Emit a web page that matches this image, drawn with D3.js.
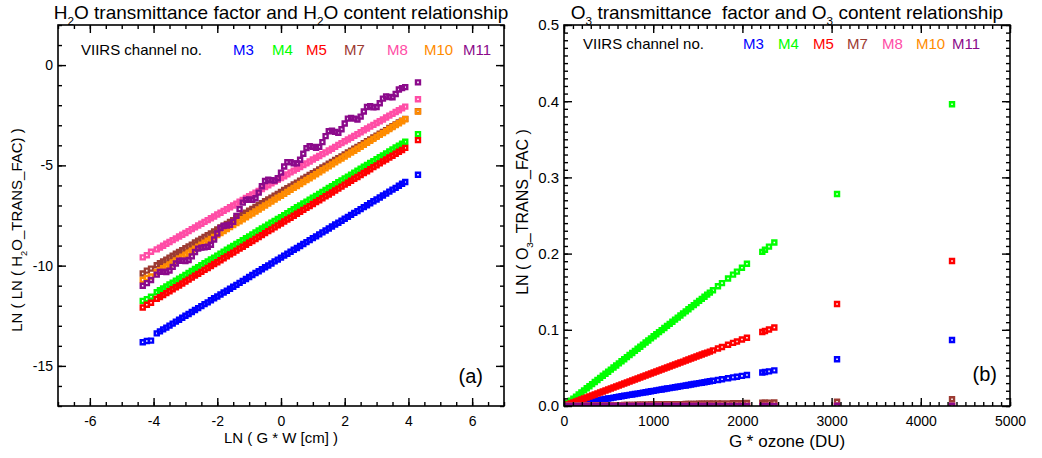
<!DOCTYPE html>
<html>
<head>
<meta charset="utf-8">
<title>H2O / O3 transmittance factors</title>
<style>
  body { margin: 0; background: #fff; }
  svg { display: block; }
  text { white-space: pre; }
</style>
</head>
<body>
<svg id="svg"></svg>
<script src="https://d3js.org/d3.v7.min.js"></script>
<script>
  // VIIRS channels, in drawing order
  const channels = ["M3", "M4", "M5", "M7", "M8", "M10", "M11"];
  const channelColors = ["#0000ff", "#00ff00", "#ff0000", "#9c3b32", "#ff4da6", "#ff8c00", "#8b0a8b"];

  // ---- (a) H2O : LN(G*W) vs LN(LN(H2O_TRANS_FAC)) ----
  const lnGW = [-4.34, -4.21, -4.08,
    -3.9, -3.8, -3.7, -3.6, -3.5, -3.4, -3.3, -3.2, -3.1, -3.0,
    -2.9, -2.8, -2.7, -2.6, -2.5, -2.4, -2.3, -2.2, -2.1, -2.0,
    -1.9, -1.8, -1.7, -1.6, -1.5, -1.4, -1.3, -1.2, -1.1, -1.0,
    -0.9, -0.8, -0.7, -0.6, -0.5, -0.4, -0.3, -0.2, -0.1, 0.0,
    0.1, 0.2, 0.3, 0.4, 0.5, 0.6, 0.7, 0.8, 0.9, 1.0,
    1.1, 1.2, 1.3, 1.4, 1.5, 1.6, 1.7, 1.8, 1.9, 2.0,
    2.1, 2.2, 2.3, 2.4, 2.5, 2.6, 2.7, 2.8, 2.9, 3.0,
    3.1, 3.2, 3.3, 3.4, 3.5, 3.6, 3.7, 3.8, 3.9,
    4.30];

  const h2oM3 = [-13.82, -13.76, -13.74,
    -13.38, -13.28, -13.18, -13.09, -12.99, -12.89, -12.79, -12.70, -12.60, -12.50,
    -12.41, -12.31, -12.21, -12.12, -12.02, -11.92, -11.83, -11.73, -11.63, -11.54,
    -11.44, -11.34, -11.25, -11.15, -11.05, -10.96, -10.86, -10.76, -10.67, -10.57,
    -10.47, -10.37, -10.28, -10.18, -10.08, -9.99, -9.89, -9.79, -9.70, -9.60,
    -9.50, -9.41, -9.31, -9.21, -9.12, -9.02, -8.92, -8.83, -8.73, -8.63,
    -8.54, -8.44, -8.34, -8.25, -8.15, -8.05, -7.95, -7.86, -7.76, -7.66,
    -7.57, -7.47, -7.37, -7.28, -7.18, -7.08, -6.99, -6.89, -6.79, -6.70,
    -6.60, -6.50, -6.41, -6.31, -6.21, -6.12, -6.02, -5.92, -5.83,
    -5.47];

  const h2oM4 = [-11.76, -11.67, -11.55,
    -11.33, -11.23, -11.14, -11.04, -10.94, -10.85, -10.75, -10.65, -10.56, -10.46,
    -10.37, -10.27, -10.17, -10.08, -9.98, -9.88, -9.79, -9.69, -9.60, -9.50,
    -9.40, -9.31, -9.21, -9.11, -9.02, -8.92, -8.83, -8.73, -8.63, -8.54,
    -8.44, -8.35, -8.25, -8.15, -8.06, -7.96, -7.86, -7.77, -7.67, -7.58,
    -7.48, -7.38, -7.29, -7.19, -7.09, -7.00, -6.90, -6.81, -6.71, -6.61,
    -6.52, -6.42, -6.33, -6.23, -6.13, -6.04, -5.94, -5.84, -5.75, -5.65,
    -5.56, -5.46, -5.36, -5.27, -5.17, -5.07, -4.98, -4.88, -4.79, -4.69,
    -4.59, -4.50, -4.40, -4.30, -4.21, -4.11, -4.02, -3.92, -3.82,
    -3.44];

  const h2oM5 = [-12.09, -11.95, -11.85,
    -11.66, -11.57, -11.47, -11.37, -11.28, -11.18, -11.08, -10.99, -10.89, -10.79,
    -10.70, -10.60, -10.50, -10.41, -10.31, -10.21, -10.12, -10.02, -9.92, -9.83,
    -9.73, -9.63, -9.54, -9.44, -9.35, -9.25, -9.15, -9.06, -8.96, -8.86,
    -8.77, -8.67, -8.57, -8.48, -8.38, -8.28, -8.19, -8.09, -7.99, -7.90,
    -7.80, -7.70, -7.61, -7.51, -7.41, -7.32, -7.22, -7.12, -7.03, -6.93,
    -6.83, -6.74, -6.64, -6.54, -6.45, -6.35, -6.25, -6.16, -6.06, -5.96,
    -5.87, -5.77, -5.67, -5.58, -5.48, -5.38, -5.29, -5.19, -5.09, -5.00,
    -4.90, -4.80, -4.71, -4.61, -4.52, -4.42, -4.32, -4.23, -4.13,
    -3.74];

  const h2oM7 = [-10.39, -10.25, -10.15,
    -9.98, -9.88, -9.79, -9.70, -9.60, -9.51, -9.41, -9.32, -9.23, -9.13,
    -9.04, -8.95, -8.85, -8.76, -8.67, -8.57, -8.48, -8.39, -8.29, -8.20,
    -8.10, -8.01, -7.92, -7.82, -7.73, -7.64, -7.54, -7.45, -7.36, -7.26,
    -7.17, -7.07, -6.98, -6.89, -6.79, -6.70, -6.61, -6.51, -6.42, -6.33,
    -6.23, -6.14, -6.05, -5.95, -5.86, -5.76, -5.67, -5.58, -5.48, -5.39,
    -5.30, -5.20, -5.11, -5.02, -4.92, -4.83, -4.73, -4.64, -4.55, -4.45,
    -4.36, -4.27, -4.17, -4.08, -3.99, -3.89, -3.80, -3.71, -3.61, -3.52,
    -3.42, -3.33, -3.24, -3.14, -3.05, -2.96, -2.86, -2.77, -2.68,
    -2.30];

  const h2oM8 = [-9.59, -9.48, -9.31,
    -9.19, -9.10, -9.01, -8.91, -8.82, -8.73, -8.64, -8.55, -8.46, -8.37,
    -8.28, -8.18, -8.09, -8.00, -7.91, -7.82, -7.73, -7.64, -7.55, -7.45,
    -7.36, -7.27, -7.18, -7.09, -7.00, -6.91, -6.81, -6.72, -6.63, -6.54,
    -6.45, -6.36, -6.27, -6.18, -6.08, -5.99, -5.90, -5.81, -5.72, -5.63,
    -5.54, -5.45, -5.35, -5.26, -5.17, -5.08, -4.99, -4.90, -4.81, -4.71,
    -4.62, -4.53, -4.44, -4.35, -4.26, -4.17, -4.08, -3.98, -3.89, -3.80,
    -3.71, -3.62, -3.53, -3.44, -3.35, -3.25, -3.16, -3.07, -2.98, -2.89,
    -2.80, -2.71, -2.61, -2.52, -2.43, -2.34, -2.25, -2.16, -2.07,
    -1.70];

  const h2oM10 = [-10.71, -10.62, -10.54,
    -10.33, -10.23, -10.13, -10.04, -9.94, -9.84, -9.74, -9.64, -9.55, -9.45,
    -9.35, -9.25, -9.16, -9.06, -8.96, -8.86, -8.76, -8.67, -8.57, -8.47,
    -8.37, -8.28, -8.18, -8.08, -7.98, -7.88, -7.79, -7.69, -7.59, -7.49,
    -7.40, -7.30, -7.20, -7.10, -7.00, -6.91, -6.81, -6.71, -6.61, -6.52,
    -6.42, -6.32, -6.22, -6.12, -6.03, -5.93, -5.83, -5.73, -5.64, -5.54,
    -5.44, -5.34, -5.24, -5.15, -5.05, -4.95, -4.85, -4.75, -4.66, -4.56,
    -4.46, -4.36, -4.27, -4.17, -4.07, -3.97, -3.87, -3.78, -3.68, -3.58,
    -3.48, -3.39, -3.29, -3.19, -3.09, -2.99, -2.90, -2.80, -2.70,
    -2.31];

  const h2oM11 = [-11.00, -10.87, -10.72,
    -10.45, -10.31, -10.31, -10.32, -10.25, -10.06, -9.89, -9.76, -9.76, -9.77,
    -9.72, -9.54, -9.32, -9.15, -9.10, -9.08, -9.06, -8.96, -8.70, -8.40,
    -8.12, -8.02, -8.00, -7.96, -7.82, -7.52, -7.18, -6.86, -6.72, -6.70,
    -6.72, -6.64, -6.36, -6.04, -5.78, -5.72, -5.74, -5.76, -5.64, -5.36,
    -5.06, -4.84, -4.84, -4.90, -4.90, -4.72, -4.42, -4.14, -4.04, -4.08,
    -4.13, -4.08, -3.84, -3.54, -3.30, -3.27, -3.33, -3.37, -3.20, -2.91,
    -2.67, -2.63, -2.67, -2.71, -2.57, -2.31, -2.09, -2.05, -2.11, -2.09,
    -1.90, -1.67, -1.56, -1.59, -1.60, -1.44, -1.22, -1.15, -1.10,
    -0.86];

  const xTicksA = [-6, -4, -2, 0, 2, 4, 6];
  const xLabelsA = ["-6", "-4", "-2", "0", "2", "4", "6"];
  const yTicksA = [0, -5, -10, -15];
  const yLabelsA = ["0", "-5", "-10", "-15"];

  // ---- (b) O3 : G*ozone vs LN(O3_TRANS_FAC) ----
  const ozoneDU = [15, 45, 75, 105, 135, 165, 195, 225, 255, 285,
    315, 345, 375, 405, 435, 465, 495, 525, 555, 585,
    615, 645, 675, 705, 735, 765, 795, 825, 855, 885,
    915, 945, 975, 1005, 1035, 1065, 1095, 1125, 1155, 1185,
    1215, 1245, 1275, 1305, 1335, 1365, 1395, 1425, 1455, 1485,
    1515, 1545, 1575, 1605, 1635,
    1670, 1726, 1771, 1839, 1895, 1939, 1995, 2051, 2223, 2253, 2298, 2358, 3061, 4350];

  const o3M3 = [0.0003, 0.0009, 0.0015, 0.0021, 0.0027, 0.0033, 0.0039, 0.0045, 0.0050, 0.0056,
    0.0062, 0.0068, 0.0074, 0.0080, 0.0086, 0.0092, 0.0098, 0.0104, 0.0110, 0.0116,
    0.0122, 0.0128, 0.0134, 0.0140, 0.0146, 0.0151, 0.0157, 0.0163, 0.0169, 0.0175,
    0.0181, 0.0187, 0.0193, 0.0199, 0.0205, 0.0211, 0.0217, 0.0223, 0.0229, 0.0235,
    0.0241, 0.0247, 0.0252, 0.0258, 0.0264, 0.0270, 0.0276, 0.0282, 0.0288, 0.0294,
    0.0300, 0.0306, 0.0312, 0.0318, 0.0324,
    0.0331, 0.0342, 0.0351, 0.0364, 0.0375, 0.0384, 0.0395, 0.0406, 0.0440, 0.0446, 0.0455, 0.0467, 0.0613, 0.0866];

  const o3M4 = [0.0014, 0.0041, 0.0068, 0.0096, 0.0123, 0.0150, 0.0177, 0.0205, 0.0232, 0.0259,
    0.0287, 0.0314, 0.0341, 0.0369, 0.0396, 0.0423, 0.0450, 0.0478, 0.0505, 0.0532,
    0.0560, 0.0587, 0.0614, 0.0642, 0.0669, 0.0696, 0.0723, 0.0751, 0.0778, 0.0805,
    0.0833, 0.0860, 0.0887, 0.0915, 0.0942, 0.0969, 0.0996, 0.1024, 0.1051, 0.1078,
    0.1106, 0.1133, 0.1160, 0.1188, 0.1215, 0.1242, 0.1269, 0.1297, 0.1324, 0.1351,
    0.1379, 0.1406, 0.1433, 0.1461, 0.1488,
    0.1520, 0.1571, 0.1612, 0.1673, 0.1724, 0.1764, 0.1815, 0.1866, 0.2023, 0.2050, 0.2091, 0.2146, 0.2782, 0.3959];

  const o3M5 = [0.0007, 0.0020, 0.0033, 0.0046, 0.0059, 0.0072, 0.0085, 0.0098, 0.0111, 0.0125,
    0.0138, 0.0151, 0.0164, 0.0177, 0.0190, 0.0203, 0.0216, 0.0229, 0.0243, 0.0256,
    0.0269, 0.0282, 0.0295, 0.0308, 0.0321, 0.0334, 0.0347, 0.0361, 0.0374, 0.0387,
    0.0400, 0.0413, 0.0426, 0.0439, 0.0452, 0.0465, 0.0479, 0.0492, 0.0505, 0.0518,
    0.0531, 0.0544, 0.0557, 0.0570, 0.0583, 0.0597, 0.0610, 0.0623, 0.0636, 0.0649,
    0.0662, 0.0675, 0.0688, 0.0701, 0.0714,
    0.0730, 0.0754, 0.0774, 0.0804, 0.0828, 0.0847, 0.0872, 0.0896, 0.0971, 0.0985, 0.1004, 0.1030, 0.1339, 0.1903];

  const o3M7 = [0.0000, 0.0001, 0.0001, 0.0002, 0.0003, 0.0003, 0.0004, 0.0004, 0.0005, 0.0005,
    0.0006, 0.0007, 0.0007, 0.0008, 0.0008, 0.0009, 0.0009, 0.0010, 0.0011, 0.0011,
    0.0012, 0.0012, 0.0013, 0.0013, 0.0014, 0.0015, 0.0015, 0.0016, 0.0016, 0.0017,
    0.0017, 0.0018, 0.0019, 0.0019, 0.0020, 0.0020, 0.0021, 0.0021, 0.0022, 0.0023,
    0.0023, 0.0024, 0.0024, 0.0025, 0.0025, 0.0026, 0.0027, 0.0027, 0.0028, 0.0028,
    0.0029, 0.0029, 0.0030, 0.0030, 0.0031,
    0.0032, 0.0033, 0.0034, 0.0035, 0.0036, 0.0037, 0.0038, 0.0039, 0.0042, 0.0043, 0.0044, 0.0045, 0.0056, 0.0088];

  const o3M8 = [0, 0, 0, 0, 0, 0, 0, 0, 0, 0,
    0, 0, 0, 0, 0, 0, 0, 0, 0, 0,
    0, 0, 0, 0, 0, 0, 0, 0, 0, 0,
    0, 0, 0, 0, 0, 0, 0, 0, 0, 0,
    0, 0, 0, 0, 0, 0, 0, 0, 0, 0,
    0, 0, 0, 0, 0,
    0, 0, 0, 0, 0, 0, 0, 0, 0, 0, 0, 0, 0, 0];

  const o3M10 = [0, 0, 0, 0, 0, 0, 0, 0, 0, 0,
    0, 0, 0, 0, 0, 0, 0, 0, 0, 0,
    0, 0, 0, 0, 0, 0, 0, 0, 0, 0,
    0, 0, 0, 0, 0, 0, 0, 0, 0, 0,
    0, 0, 0, 0, 0, 0, 0, 0, 0, 0,
    0, 0, 0, 0, 0,
    0, 0, 0, 0, 0, 0, 0, 0, 0, 0, 0, 0, 0, 0];

  const o3M11 = [0, 0, 0, 0, 0, 0, 0, 0, 0, 0,
    0, 0, 0, 0, 0, 0, 0, 0, 0, 0,
    0, 0, 0, 0, 0, 0, 0, 0, 0, 0,
    0.0001, 0.0001, 0.0001, 0.0001, 0.0001, 0.0001, 0.0001, 0.0001, 0.0001, 0.0001,
    0.0001, 0.0001, 0.0001, 0.0001, 0.0001, 0.0001, 0.0001, 0.0001, 0.0001, 0.0001,
    0.0001, 0.0001, 0.0001, 0.0001, 0.0001,
    0.0001, 0.0001, 0.0001, 0.0001, 0.0001, 0.0001, 0.0001, 0.0001, 0.0002, 0.0002, 0.0002, 0.0002, 0.0003, 0.0004];

  const xTicksB = [0, 1000, 2000, 3000, 4000, 5000];
  const xLabelsB = ["0", "1000", "2000", "3000", "4000", "5000"];
  const yTicksB = [0, 0.1, 0.2, 0.3, 0.4, 0.5];
  const yLabelsB = ["0.0", "0.1", "0.2", "0.3", "0.4", "0.5"];

  // ---- layout ----
  const width = 1042, height = 458;
  const font = "'Liberation Sans', Arial, Helvetica, sans-serif";

  const panels = [
    {
      id: "a", left: 58, right: 504, top: 25, bottom: 406,
      xDomain: [-7, 7], yDomain: [-17, 2],
      xs: lnGW, series: [h2oM3, h2oM4, h2oM5, h2oM7, h2oM8, h2oM10, h2oM11],
      xTicks: xTicksA, xLabels: xLabelsA, xMinor: d3.range(-7, 7.001, 0.5),
      yTicks: yTicksA, yLabels: yLabelsA, yMinor: d3.range(-17, 2.001, 1),
      xPad: 10, xFont: 14, yFont: 14, clip: false,
      title: "H!D2!NO transmittance factor and H!D2!NO content relationship", titleY: 18.5,
      xTitle: "LN ( G * W [cm] )", xTitleY: 443, xTitleSize: 15,
      yTitle: "LN ( LN ( H!D2!NO_TRANS_FAC) )", yTitleX: 22, yTitleY: 230, yTitleSize: 15,
      legendY: 54.5, legendX: 81, chanX: [233, 272, 306, 344, 387, 424, 463],
      tag: "(a)", tagX: 483, tagY: 383
    },
    {
      id: "b", left: 564, right: 1010, top: 25, bottom: 406,
      xDomain: [0, 5000], yDomain: [0, 0.5],
      xs: ozoneDU, series: [o3M3, o3M4, o3M5, o3M7, o3M8, o3M10, o3M11],
      xTicks: xTicksB, xLabels: xLabelsB, xMinor: d3.range(0, 5001, 100),
      yTicks: yTicksB, yLabels: yLabelsB, yMinor: d3.range(0, 0.5001, 0.01),
      xPad: 10, xFont: 14, yFont: 15, clip: true,
      title: "O!D3!N transmittance  factor and O!D3!N content relationship", titleY: 18.5,
      xTitle: "G * ozone (DU)", xTitleY: 447, xTitleSize: 17,
      yTitle: "LN ( O!D3!N_TRANS_FAC )", yTitleX: 528, yTitleY: 212, yTitleSize: 16,
      legendY: 48.5, legendX: 583, chanX: [743, 778, 813, 847, 882, 916, 952],
      tag: "(b)", tagX: 997, tagY: 381
    }
  ];

  const svg = d3.select("#svg").attr("width", width).attr("height", height)
    .attr("font-family", font);

  // IDL-style "!D..!N" subscripts
  function richText(text, s, size) {
    const parts = s.split(/!D|!N/);
    let shift = 0;
    parts.forEach((p, i) => {
      if (!p) return;
      const sub = i % 2 === 1;
      const target = sub ? size * 0.32 : 0;
      text.append("tspan")
        .attr("dy", target - shift)
        .attr("font-size", sub ? size * 0.62 : size)
        .text(p);
      shift = target;
    });
  }

  function styleAxis(g, fontSize) {
    g.selectAll(".domain").remove();
    g.selectAll(".tick line").attr("stroke", "#000").attr("stroke-width", 1.4);
    g.selectAll("text").attr("fill", "#000").attr("font-size", fontSize).attr("font-family", font);
  }

  function drawPanel(p) {
    const x = d3.scaleLinear().domain(p.xDomain).range([p.left, p.right]);
    const y = d3.scaleLinear().domain(p.yDomain).range([p.bottom, p.top]);
    const g = svg.append("g");
    const major = 8, minor = 4;
    const fmt = (labels, ticks) => d => labels[ticks.indexOf(d)];

    // points (open squares)
    if (p.clip) {
      svg.append("clipPath").attr("id", "clip-" + p.id)
        .append("rect")
        .attr("x", p.left).attr("y", p.top)
        .attr("width", p.right - p.left).attr("height", p.bottom - p.top);
    }
    const marks = g.append("g");
    if (p.clip) marks.attr("clip-path", `url(#clip-${p.id})`);
    const square = d3.symbol().type(d3.symbolSquare).size(16)();
    p.series.forEach((ys, i) => {
      marks.append("g")
        .selectAll("path")
        .data(p.xs.map((xv, j) => [xv, ys[j]]))
        .join("path")
        .attr("d", square)
        .attr("transform", d => `translate(${x(d[0])},${y(d[1])})`)
        .attr("fill", "none")
        .attr("stroke", channelColors[i])
        .attr("stroke-width", 2.4);
    });

    // axes, ticks pointing inward on all four sides
    const bottom = g.append("g").attr("transform", `translate(0,${p.bottom})`)
      .call(d3.axisBottom(x).tickValues(p.xTicks).tickFormat(fmt(p.xLabels, p.xTicks))
        .tickSizeInner(-major).tickSizeOuter(0).tickPadding(p.xPad));
    styleAxis(bottom, p.xFont);
    const bottomMinor = g.append("g").attr("transform", `translate(0,${p.bottom})`)
      .call(d3.axisBottom(x).tickValues(p.xMinor).tickFormat("").tickSizeInner(-minor).tickSizeOuter(0));
    styleAxis(bottomMinor, p.xFont);
    const top = g.append("g").attr("transform", `translate(0,${p.top})`)
      .call(d3.axisTop(x).tickValues(p.xTicks).tickFormat("").tickSizeInner(-major).tickSizeOuter(0));
    styleAxis(top, p.xFont);
    const topMinor = g.append("g").attr("transform", `translate(0,${p.top})`)
      .call(d3.axisTop(x).tickValues(p.xMinor).tickFormat("").tickSizeInner(-minor).tickSizeOuter(0));
    styleAxis(topMinor, p.xFont);

    const leftAx = g.append("g").attr("transform", `translate(${p.left},0)`)
      .call(d3.axisLeft(y).tickValues(p.yTicks).tickFormat(fmt(p.yLabels, p.yTicks))
        .tickSizeInner(-major).tickSizeOuter(0).tickPadding(5));
    styleAxis(leftAx, p.yFont);
    const leftMinor = g.append("g").attr("transform", `translate(${p.left},0)`)
      .call(d3.axisLeft(y).tickValues(p.yMinor).tickFormat("").tickSizeInner(-minor).tickSizeOuter(0));
    styleAxis(leftMinor, p.yFont);
    const rightAx = g.append("g").attr("transform", `translate(${p.right},0)`)
      .call(d3.axisRight(y).tickValues(p.yTicks).tickFormat("").tickSizeInner(-major).tickSizeOuter(0));
    styleAxis(rightAx, p.yFont);
    const rightMinor = g.append("g").attr("transform", `translate(${p.right},0)`)
      .call(d3.axisRight(y).tickValues(p.yMinor).tickFormat("").tickSizeInner(-minor).tickSizeOuter(0));
    styleAxis(rightMinor, p.yFont);

    // frame
    g.append("rect")
      .attr("x", p.left).attr("y", p.top)
      .attr("width", p.right - p.left).attr("height", p.bottom - p.top)
      .attr("fill", "none").attr("stroke", "#000").attr("stroke-width", 1.6);

    const cx = (p.left + p.right) / 2;

    // title
    richText(g.append("text").attr("x", cx).attr("y", p.titleY)
      .attr("text-anchor", "middle").attr("font-size", 19), p.title, 19);

    // axis titles
    g.append("text").attr("x", cx).attr("y", p.xTitleY)
      .attr("text-anchor", "middle").attr("font-size", p.xTitleSize).text(p.xTitle);
    richText(g.append("text")
      .attr("transform", `translate(${p.yTitleX},${p.yTitleY}) rotate(-90)`)
      .attr("text-anchor", "middle").attr("font-size", p.yTitleSize), p.yTitle, p.yTitleSize);

    // legend
    g.append("text").attr("x", p.legendX).attr("y", p.legendY)
      .attr("font-size", 15).text("VIIRS channel no.");
    g.append("g").selectAll("text")
      .data(channels)
      .join("text")
      .attr("x", (d, i) => p.chanX[i])
      .attr("y", p.legendY)
      .attr("font-size", 15)
      .attr("fill", (d, i) => channelColors[i])
      .text(d => d);

    // panel tag
    g.append("text").attr("x", p.tagX).attr("y", p.tagY)
      .attr("text-anchor", "end").attr("font-size", 20).text(p.tag);
  }

  panels.forEach(drawPanel);
</script>
</body>
</html>
